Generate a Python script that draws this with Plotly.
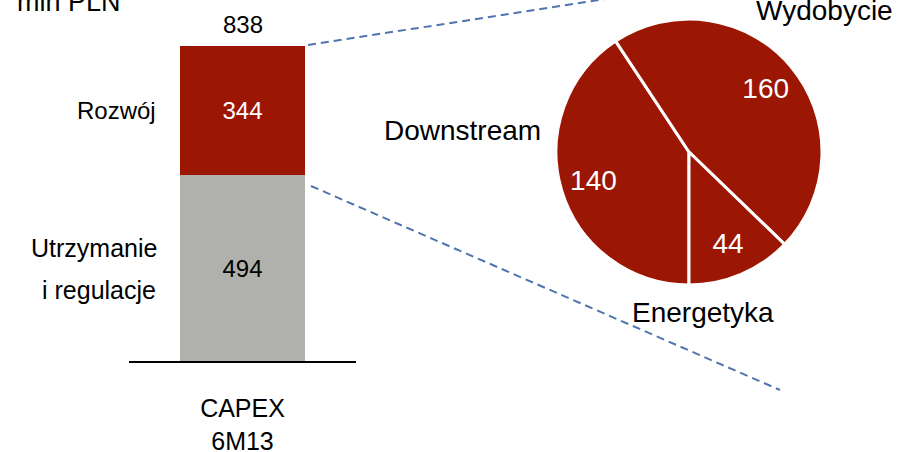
import plotly.graph_objects as go

# ---- data ----
bar_category = ["CAPEX<br>6M13"]
maint_name = "Utrzymanie i regulacje"
maint_lines = ["Utrzymanie", "i regulacje"]
maint_values = [494]
dev_name = "Rozwój"
dev_values = [344]
total_values = [838]
unit_label = "mln PLN"

pie_labels = ["Downstream", "Wydobycie", "Energetyka"]
pie_values = [140, 160, 44]

# ---- style ----
RED = "#9C1604"
GRAY = "#B0B1AC"
BLUE = "#4F74AE"
FONT = "Liberation Sans, Arial, sans-serif"
W, H = 901, 452

def px(x):
    return x / W

def py(y):
    return (H - y) / H

fig = go.Figure()

fig.add_trace(go.Bar(
    x=bar_category, y=maint_values, name=maint_name,
    marker=dict(color=GRAY, line=dict(width=0)),
    width=0.555, text=[str(v) for v in maint_values],
    textposition="inside", insidetextanchor="middle",
    textfont=dict(color="black", size=24, family=FONT),
    hoverinfo="skip",
))
fig.add_trace(go.Bar(
    x=bar_category, y=dev_values, name=dev_name,
    marker=dict(color=RED, line=dict(width=0)),
    width=0.555, text=[str(v) for v in dev_values],
    textposition="inside", insidetextanchor="middle",
    textfont=dict(color="white", size=24, family=FONT),
    hoverinfo="skip",
))

pie_domain = dict(x=[px(556), px(822)], y=[py(285), py(19)])
# filled pie (no text)
fig.add_trace(go.Pie(
    labels=pie_labels, values=pie_values, sort=False,
    direction="clockwise", rotation=180,
    marker=dict(colors=[RED] * len(pie_values), line=dict(color="white", width=3)),
    textinfo="none", domain=pie_domain,
    hoverinfo="skip", showlegend=False,
))
# transparent ring carrying the value labels further out
fig.add_trace(go.Pie(
    labels=pie_labels, values=pie_values, sort=False,
    direction="clockwise", rotation=180, hole=0.5,
    marker=dict(colors=["rgba(0,0,0,0)"] * len(pie_values), line=dict(width=0)),
    textinfo="value", textposition="inside", insidetextorientation="horizontal",
    textfont=dict(color="white", size=28, family=FONT),
    domain=pie_domain, hoverinfo="skip", showlegend=False,
))

fig.update_layout(
    width=W, height=H,
    margin=dict(l=0, r=0, t=0, b=0, autoexpand=False),
    paper_bgcolor="white", plot_bgcolor="white",
    showlegend=False, barmode="stack",
    xaxis=dict(domain=[px(129), px(356)], showline=True, linecolor="black",
               linewidth=2, ticks="", showgrid=False, zeroline=False,
               automargin=False, ticklabelstandoff=24,
               tickfont=dict(size=25, family=FONT, color="black"),
               fixedrange=True),
    yaxis=dict(domain=[py(361), 1], range=[0, 361 / 0.3759], visible=False,
               showgrid=False, zeroline=False, automargin=False, fixedrange=True),
)

annotations = [
    dict(text=str(total_values[0]), xref="x", yref="y", x=bar_category[0],
         y=total_values[0], yanchor="bottom", yshift=6, showarrow=False,
         font=dict(size=24, family=FONT, color="black")),
    dict(text=unit_label, xref="paper", yref="paper", x=px(15), y=py(19),
         xanchor="left", yanchor="bottom", showarrow=False,
         font=dict(size=27, family=FONT, color="black")),
    dict(text=dev_name, xref="paper", yref="y", x=px(158),
         y=maint_values[0] + dev_values[0] / 2,
         xanchor="right", yanchor="middle", showarrow=False,
         font=dict(size=24, family=FONT, color="black")),
    dict(text=maint_lines[0], xref="paper", yref="paper", x=px(159), y=py(248),
         xanchor="right", yanchor="middle", showarrow=False,
         font=dict(size=25, family=FONT, color="black")),
    dict(text=maint_lines[1], xref="paper", yref="paper", x=px(158), y=py(290),
         xanchor="right", yanchor="middle", showarrow=False,
         font=dict(size=25, family=FONT, color="black")),
    dict(text=pie_labels[0], xref="paper", yref="paper", x=px(543), y=py(130),
         xanchor="right", yanchor="middle", showarrow=False,
         font=dict(size=28, family=FONT, color="black")),
    dict(text=pie_labels[1], xref="paper", yref="paper", x=px(824), y=py(11),
         xanchor="center", yanchor="middle", showarrow=False,
         font=dict(size=28, family=FONT, color="black")),
    dict(text=pie_labels[2], xref="paper", yref="paper", x=px(703), y=py(312),
         xanchor="center", yanchor="middle", showarrow=False,
         font=dict(size=28, family=FONT, color="black")),
]
fig.update_layout(annotations=annotations)

shapes = [
    dict(type="line", xref="paper", yref="paper",
         x0=px(308), y0=py(45), x1=px(612), y1=py(-2),
         line=dict(color=BLUE, width=2, dash="8px,5px")),
    dict(type="line", xref="paper", yref="paper",
         x0=px(311), y0=py(186), x1=px(780), y1=py(390),
         line=dict(color=BLUE, width=2, dash="8px,5px")),
]
fig.update_layout(shapes=shapes)

fig.write_html("out.html", config={"displayModeBar": False},
               post_script="document.body.style.margin='0px';")
